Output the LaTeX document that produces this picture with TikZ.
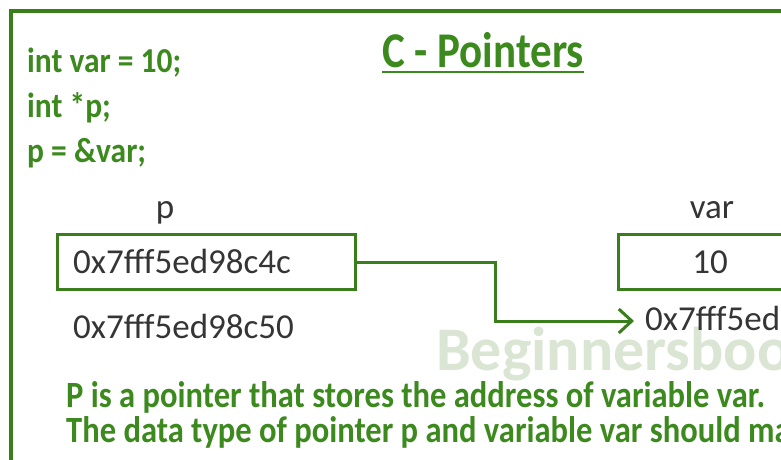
\documentclass[tikz,border=0pt]{standalone}
\usepackage{fontspec}
\setmainfont{Carlito}
\newfontfamily\greenfont{Carlito}[FakeStretch=0.9]
\newfontfamily\explfont{Carlito}[FakeStretch=0.88]
\newfontfamily\titlefont{Carlito}[FakeStretch=0.86]
\usetikzlibrary{arrows.meta}
\definecolor{framegreen}{HTML}{3A7E1C}
\definecolor{textgreen}{HTML}{3C8A1E}
\definecolor{addrgrey}{HTML}{353535}
\definecolor{wmark}{HTML}{DAE6D3}
\tikzset{
  code/.style={anchor=base west, inner sep=0pt, text=textgreen, font=\greenfont\bfseries\fontsize{35}{35}\selectfont},
  addr/.style={inner sep=0pt, text=addrgrey, font=\fontsize{35}{35}\selectfont},
  membox/.style={draw=framegreen, line width=3pt, minimum height=55pt, inner sep=0pt},
  expl/.style={anchor=base west, inner sep=0pt, text=textgreen, font=\explfont\bfseries\fontsize{37}{37}\selectfont},
  link/.style={draw=framegreen, line width=3pt, -{Straight Barb[length=13pt,width=24pt,line width=3pt]}}
}
\begin{document}
\begin{tikzpicture}[x=1pt,y=-1pt]
\useasboundingbox (0,0) rectangle (781,460);
\clip (0,0) rectangle (781,460);
\fill[white] (0,0) rectangle (781,460);
% outer frame
\draw[framegreen, line width=4pt] (11,470) -- (11,11) -- (790,11);
% watermark
\node[anchor=base west, inner sep=0pt, text=wmark, font=\bfseries\fontsize{62}{62}\selectfont] (wm) at (436,370) {Beginnersbook};
% code
\node[code] (c1) at (27,72) {int var = 10;};
\node[code] (c2) at (27,117) {int *p;};
\node[code] (c3) at (27,162) {p = \&var;};
% title
\node[anchor=base west, inner sep=0pt, text=textgreen, font=\titlefont\bfseries\fontsize{50}{50}\selectfont] (title) at (382,67) {C - Pointers};
\draw[textgreen, line width=2.5pt] (title.base west) ++(0,5) coordinate (ul1) -- (ul1 -| title.east);
% p
\node[addr, anchor=base] (plabel) at (165,218) {p};
\node[membox, minimum width=298pt] (pbox) at (206,262) {};
\node[addr, anchor=base west] (pval) at (73,273) {0x7fff5ed98c4c};
\node[addr, anchor=base west] (paddr) at (73,338) {0x7fff5ed98c50};
% var
\node[addr, anchor=base] (vlabel) at (712,218) {var};
\node[membox, minimum width=184pt] (vbox) at (710,262) {};
\node[addr, anchor=base] (vval) at (710,273) {10};
\node[addr, anchor=base west] (vaddr) at (645,330) {0x7fff5ed98c4c};
% connector
\coordinate (bend) at (495,321);
\coordinate (tip) at (634,321);
\draw[link] (pbox.east) -| (bend) -- (tip);
% explanation
\node[expl] (e1) at (66,407) {P is a pointer that stores the address of variable var.};
\node[expl] (e2) at (66,442) {The data type of pointer p and variable var should match.};
\end{tikzpicture}
\end{document}
